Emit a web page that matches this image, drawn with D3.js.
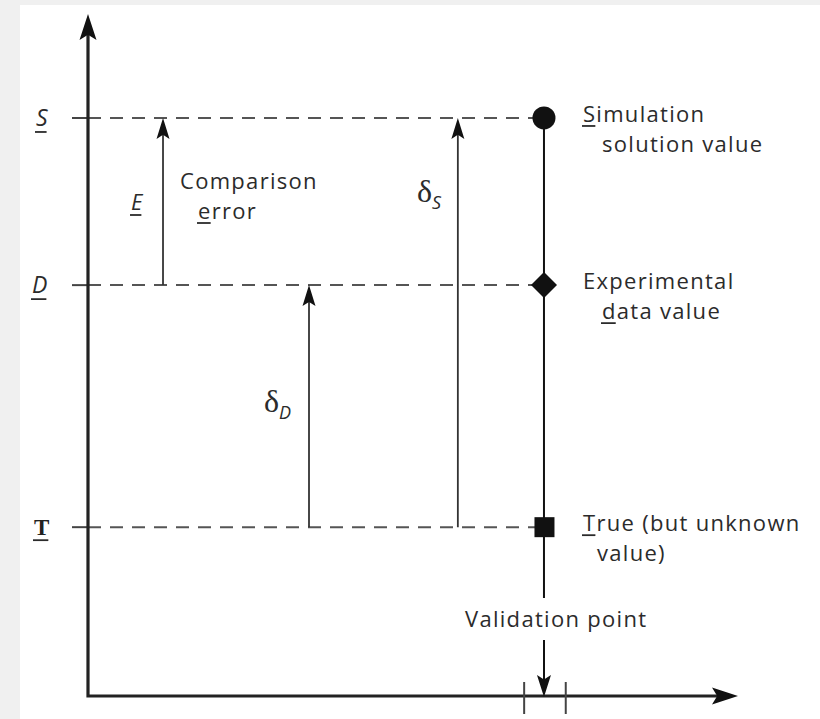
<!DOCTYPE html>
<html><head><meta charset="utf-8">
<script src="https://cdn.jsdelivr.net/npm/d3@7"></script>
<style>
html,body{margin:0;padding:0;background:#f0f0f0;}
svg{display:block;}
text{font-family:"Open Sans",sans-serif;fill:#2b2b2b;}
</style></head>
<body>
<script>
// ---- data ----
const levelNames = ["S", "D", "T"];
const levelValues = [10.34, 7.35, 3.02];
const levelLabels = [["Simulation", "solution value"], ["Experimental", "data value"], ["True (but unknown", "value)"]];
const levelUnderline = [[true, false], [false, true], [true, false]]; // underlined first letter per line
const arrowNames = ["E", "δD", "δS"];
const arrowX = [1.154, 3.40, 5.69];
const arrowFrom = ["D", "T", "T"];
const arrowTo = ["S", "D", "S"];
const validationX = 7.015;
const validationTicks = [6.71, 7.35];
const validationLabel = "Validation point";

const W = 820, H = 719;
const svg = d3.select("body").append("svg").attr("width", W).attr("height", H);
svg.append("rect").attr("x", 20).attr("y", 5).attr("width", W - 20).attr("height", H - 5).attr("fill", "#fff");

const x = d3.scaleLinear().domain([0, 10]).range([88, 738]);
const y = d3.scaleLinear().domain([0, 12.2]).range([696, 14]);
const val = name => levelValues[levelNames.indexOf(name)];
const FS = "22px", LS = "1.3px";

function arrowHead(g, tipX, tipY, dir, len, half, color) {
  let pts;
  if (dir === "up") pts = [[tipX, tipY], [tipX - half, tipY + len], [tipX, tipY + len * 0.8], [tipX + half, tipY + len]];
  else if (dir === "down") pts = [[tipX, tipY], [tipX - half, tipY - len], [tipX, tipY - len * 0.8], [tipX + half, tipY - len]];
  else pts = [[tipX, tipY], [tipX - len, tipY - half], [tipX - len * 0.8, tipY], [tipX - len, tipY + half]];
  g.append("path").attr("d", "M" + pts.map(p => p.join(",")).join("L") + "Z").attr("fill", color);
}

// dashed level lines
const gLev = svg.append("g");
levelNames.forEach((n, i) => {
  const yy = y(levelValues[i]);
  gLev.append("line").attr("x1", x(0)).attr("x2", x(validationX)).attr("y1", yy).attr("y2", yy)
    .attr("stroke", "#555").attr("stroke-width", 2).attr("stroke-dasharray", "13,9");
  gLev.append("line").attr("x1", x(0) - 16).attr("x2", x(0)).attr("y1", yy).attr("y2", yy)
    .attr("stroke", "#444").attr("stroke-width", 2);
});

// axes
const gAx = svg.append("g");
gAx.append("path").attr("d", `M${x(0)},${y(12.2) + 20}L${x(0)},${y(0)}L${x(10) - 20},${y(0)}`)
  .attr("fill", "none").attr("stroke", "#222").attr("stroke-width", 3.2);
arrowHead(gAx, x(0), y(12.2), "up", 26, 8.5, "#111");
arrowHead(gAx, x(10), y(0), "right", 26, 8.5, "#111");
validationTicks.forEach(t => {
  gAx.append("line").attr("x1", x(t)).attr("x2", x(t)).attr("y1", y(0) - 14).attr("y2", y(0) + 18)
    .attr("stroke", "#444").attr("stroke-width", 2);
});

function underlineChar(textSel, idx, dy) {
  const ext = textSel.node().getExtentOfChar(idx);
  const base = +textSel.attr("y");
  svg.append("line").attr("x1", ext.x - 1).attr("x2", ext.x + ext.width - 1)
    .attr("y1", base + dy).attr("y2", base + dy).attr("stroke", "#2b2b2b").attr("stroke-width", 1.8);
}

// left level labels
levelNames.forEach((n, i) => {
  const yy = y(levelValues[i]);
  let t;
  if (n === "T") {
    t = svg.append("text").attr("x", 34).attr("y", yy + 8).text(n)
      .style("font-family", "'Liberation Serif',serif").style("font-weight", "bold").style("font-size", "23px").style("fill", "#222");
  } else {
    t = svg.append("text").attr("x", n === "D" ? 32 : 36).attr("y", yy + 8).text(n)
      .style("font-style", "italic").style("font-size", "23px");
  }
  underlineChar(t, 0, n === "T" ? 5 : 6);
});

// vertical arrows
const gArr = svg.append("g");
arrowNames.forEach((n, i) => {
  const xx = x(arrowX[i]);
  gArr.append("line").attr("x1", xx).attr("x2", xx).attr("y1", y(val(arrowFrom[i]))).attr("y2", y(val(arrowTo[i])) + 10)
    .attr("stroke", "#333").attr("stroke-width", 1.8);
  arrowHead(gArr, xx, y(val(arrowTo[i])), "up", 21, 6.5, "#111");
});
// E label
const eT = svg.append("text").attr("x", x(arrowX[0]) - 32).attr("y", 210).text("E")
  .style("font-style", "italic").style("font-size", "22px");
underlineChar(eT, 0, 5);
svg.append("text").attr("x", x(arrowX[0]) + 17).attr("y", 189).text("Comparison")
  .style("font-size", FS).style("letter-spacing", LS);
const errT = svg.append("text").attr("x", x(arrowX[0]) + 35).attr("y", 219).text("error")
  .style("font-size", FS).style("letter-spacing", LS);
underlineChar(errT, 0, 4);
// delta labels
[[1, 412, 264], [2, 202, 417]].forEach(([i, yy, xx0]) => {
  const t = svg.append("text").attr("x", xx0).attr("y", yy);
  t.append("tspan").text(arrowNames[i][0]).style("font-family", "'Liberation Serif',serif").style("font-size", "32px");
  t.append("tspan").text(arrowNames[i].slice(1)).attr("dy", 7).style("font-style", "italic").style("font-size", "18px");
});

// validation line
const vx = x(validationX);
gArr.append("line").attr("x1", vx).attr("x2", vx).attr("y1", y(val("S"))).attr("y2", 598).attr("stroke", "#111").attr("stroke-width", 2);
gArr.append("line").attr("x1", vx).attr("x2", vx).attr("y1", 640).attr("y2", y(0) - 10).attr("stroke", "#111").attr("stroke-width", 2);
arrowHead(gArr, vx, y(0) + 1, "down", 22, 7, "#111");
svg.append("text").attr("x", vx - 79).attr("y", 627).text(validationLabel)
  .style("font-size", FS).style("letter-spacing", LS);

// markers
const gM = svg.append("g");
gM.append("circle").attr("cx", vx).attr("cy", y(val("S"))).attr("r", 11.5).attr("fill", "#111");
const dy0 = y(val("D"));
gM.append("path").attr("d", `M${vx},${dy0 - 13}L${vx + 13},${dy0}L${vx},${dy0 + 13}L${vx - 13},${dy0}Z`).attr("fill", "#111");
gM.append("rect").attr("x", vx - 9.5).attr("y", y(val("T")) - 10).attr("width", 20).attr("height", 20).attr("fill", "#111");

// right labels
levelNames.forEach((n, i) => {
  const yy = y(levelValues[i]);
  const l1 = svg.append("text").attr("x", vx + 39).attr("y", yy + 4).text(levelLabels[i][0])
    .style("font-size", FS).style("letter-spacing", LS);
  const l2 = svg.append("text").attr("x", vx + (i === 2 ? 53 : 58)).attr("y", yy + 34).text(levelLabels[i][1])
    .style("font-size", FS).style("letter-spacing", LS);
  if (levelUnderline[i][0]) underlineChar(l1, 0, 4);
  if (levelUnderline[i][1]) underlineChar(l2, 0, 4);
});
</script>
</body></html>
